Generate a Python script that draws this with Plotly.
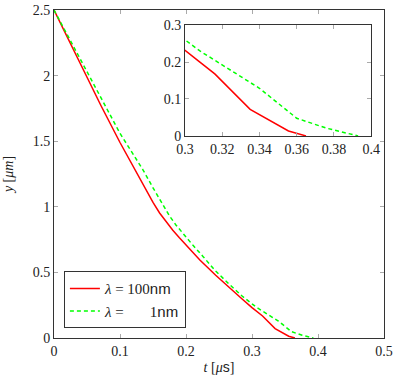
"""Droplet height y(t) for two slip lengths, with zoomed inset near touchdown."""

import plotly.graph_objects as go

# red: lambda = 100 nm
t_100 = [0, 0.035, 0.0707, 0.1, 0.1227, 0.14, 0.15, 0.16, 0.17, 0.18, 0.19,
         0.2, 0.221, 0.245, 0.2667, 0.285, 0.3, 0.308, 0.316, 0.335, 0.3556,
         0.365]
y_100 = [2.5, 2.14, 1.776, 1.49, 1.28, 1.121, 1.033, 0.953, 0.883, 0.821,
         0.764, 0.708, 0.595, 0.478, 0.376, 0.297, 0.232, 0.20, 0.168, 0.072,
         0.0135, 0.0]

# green: lambda = 1 nm
t_1 = [0, 0.04, 0.076, 0.1, 0.12, 0.135, 0.15, 0.163, 0.175, 0.185, 0.196,
       0.21, 0.226, 0.245, 0.2667, 0.285, 0.3, 0.308, 0.34, 0.36, 0.376, 0.393]
y_1 = [2.5, 2.12, 1.776, 1.56, 1.40, 1.28, 1.145, 1.03, 0.93, 0.86, 0.79,
       0.71, 0.62, 0.51, 0.404, 0.32, 0.26, 0.23, 0.129, 0.048, 0.021, 0.0]

RED = "#ff0000"
GREEN = "#00ff00"
FONT = "Liberation Serif"
SANS = "Liberation Sans"

fig = go.Figure()

# ---- main axes ----
fig.add_trace(go.Scatter(
    x=t_100, y=y_100, mode="lines",
    name=f"<i>λ</i> = 100<span style='font-family:{SANS}'>nm</span>",
    line=dict(color=RED, width=1.5),
))
fig.add_trace(go.Scatter(
    x=t_1, y=y_1, mode="lines",
    name=f"<i>λ</i> =       1<span style='font-family:{SANS}'>nm</span>",
    line=dict(color=GREEN, width=1.5, dash="4px,3px"),
))

# ---- inset ----
fig.add_trace(go.Scatter(
    x=t_100, y=y_100, mode="lines", showlegend=False,
    line=dict(color=RED, width=1.5), xaxis="x2", yaxis="y2",
))
fig.add_trace(go.Scatter(
    x=t_1, y=y_1, mode="lines", showlegend=False,
    line=dict(color=GREEN, width=1.5, dash="4px,3px"), xaxis="x2", yaxis="y2",
))

axis_common = dict(
    showline=True, linecolor="#333", linewidth=1, mirror="allticks",
    ticks="inside", ticklen=4, tickcolor="#aaa", showgrid=False, zeroline=False,
    automargin=False, ticklabeloverflow="allow",
    tickfont=dict(family=FONT, size=14, color="#222"),
)

fig.update_layout(
    width=399, height=384,
    margin=dict(l=54, r=15, t=10, b=46),
    paper_bgcolor="white", plot_bgcolor="white",
    font=dict(family=FONT, color="#222"),
    xaxis=dict(
        range=[0, 0.5], dtick=0.1,
        title=dict(text=f"<i>t</i> [<i>μ</i><span style='font-family:{SANS}'>s</span>]",
                   font=dict(size=14), standoff=4),
        **axis_common,
    ),
    yaxis=dict(
        range=[0, 2.5], dtick=0.5,
        title=dict(text="<i>y</i> [<i>μm</i>]", font=dict(size=14)),
        **axis_common,
    ),
    xaxis2=dict(
        domain=[0.397, 0.961], anchor="y2", range=[0.3, 0.4], dtick=0.02,
        **axis_common,
    ),
    yaxis2=dict(
        domain=[0.616, 0.954], anchor="x2", range=[0, 0.3], dtick=0.1,
        **axis_common,
    ),
    legend=dict(
        x=0.03, y=0.03, xanchor="left", yanchor="bottom",
        bgcolor="white", bordercolor="#333", borderwidth=1,
        font=dict(family=FONT, size=15, color="#222"),
        itemwidth=30, tracegroupgap=0,
    ),
    showlegend=True,
)

# drop the browser's default 8px body margin so the figure fills the window
fig.write_html(
    "out.html",
    config={"displayModeBar": False},
    post_script="document.body.style.margin = '0';",
)
